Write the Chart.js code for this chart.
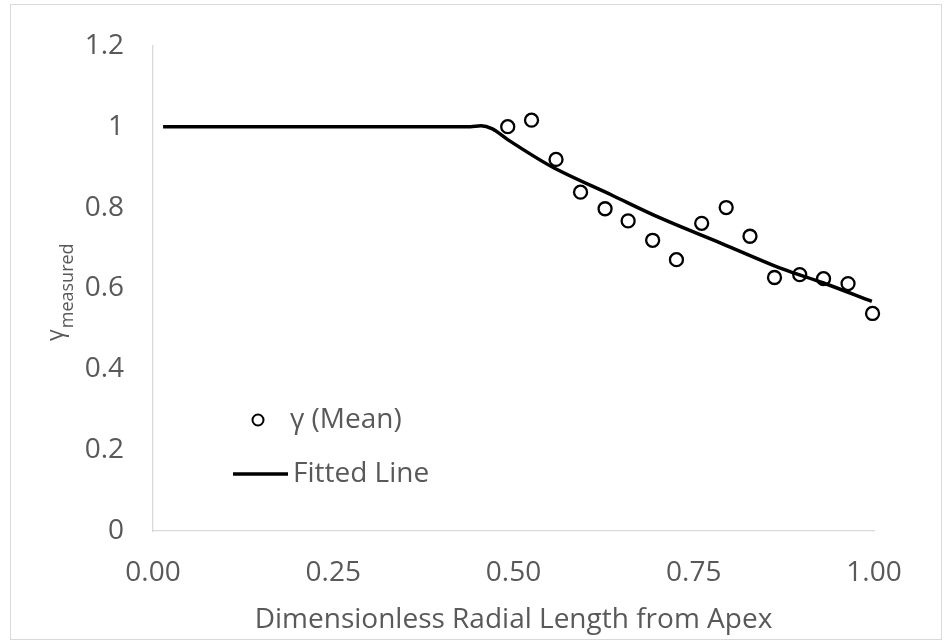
<!DOCTYPE html>
<html lang="en">
<head>
    <meta charset="UTF-8">
    <title>Gamma measured</title>
    <style>
        html, body { margin: 0; padding: 0; background: #fff; }
        #wrap { position: relative; width: 951px; height: 643px; }
        #frame { position: absolute; left: 10px; top: 4px; width: 930px; height: 634px; border: 1px solid #d9d9d9; pointer-events: none; }
    </style>
</head>
<body>
    <div id="wrap">
        <canvas id="myChart" width="951" height="643"></canvas>
        <div id="frame"></div>
    </div>

    <script src="https://cdn.jsdelivr.net/npm/chart.js"></script>

    <script>
        // measured points: gamma (mean)
        const meanX = [0.492, 0.525, 0.559, 0.593, 0.627, 0.659, 0.693, 0.726, 0.761, 0.795, 0.828, 0.862, 0.897, 0.930, 0.964, 0.998];
        const meanY = [1.000, 1.016, 0.919, 0.838, 0.797, 0.767, 0.719, 0.671, 0.761, 0.800, 0.729, 0.627, 0.634, 0.624, 0.612, 0.538];

        // fitted line
        const fitX = [0.014, 0.440, 0.455, 0.470, 0.492, 0.552, 0.636, 0.705, 0.789, 0.872, 0.929, 0.997];
        const fitY = [1.000, 1.000, 1.002, 0.995, 0.968, 0.902, 0.831, 0.773, 0.711, 0.649, 0.614, 0.568];

        const xTicks = [0, 0.25, 0.5, 0.75, 1];
        const yTicks = [0, 0.2, 0.4, 0.6, 0.8, 1, 1.2];

        const textColor = '#595959';
        const fontFamily = '"Open Sans", "Noto Sans", sans-serif';

        // legend inside the plot and the y title with subscript
        const decor = {
            id: 'decor',
            afterDraw(chart) {
                const ctx = chart.ctx;
                const ds = chart.data.datasets;
                ctx.save();
                ctx.fillStyle = textColor;
                ctx.textBaseline = 'middle';
                ctx.textAlign = 'left';
                ctx.font = '28px ' + fontFamily;

                ctx.beginPath();
                ctx.arc(258, 420, 5.5, 0, Math.PI * 2);
                ctx.lineWidth = 2;
                ctx.strokeStyle = ds[0].borderColor;
                ctx.stroke();
                ctx.fillText(ds[0].label, 290, 420);

                ctx.beginPath();
                ctx.moveTo(233, 474);
                ctx.lineTo(288, 474);
                ctx.lineWidth = ds[1].borderWidth;
                ctx.strokeStyle = ds[1].borderColor;
                ctx.stroke();
                ctx.fillText(ds[1].label, 293, 474);

                // y axis title: gamma with "measured" subscript
                ctx.translate(63, 341);
                ctx.rotate(-Math.PI / 2);
                ctx.textBaseline = 'alphabetic';
                ctx.font = '23px ' + fontFamily;
                ctx.fillText('γ', 0, 0);
                const w = ctx.measureText('γ').width;
                ctx.font = '18px ' + fontFamily;
                ctx.fillText('measured', w + 1, 10);
                ctx.restore();
            }
        };

        const ctx = document.getElementById('myChart');

        new Chart(ctx, {
            type: 'scatter',
            data: {
                datasets: [
                    {
                        label: 'γ (Mean)',
                        data: meanX.map((x, i) => ({ x: x, y: meanY[i] })),
                        showLine: false,
                        pointStyle: 'circle',
                        pointRadius: 6.5,
                        pointBorderWidth: 2.3,
                        borderColor: '#000',
                        backgroundColor: 'rgba(0,0,0,0)',
                        clip: false
                    },
                    {
                        label: 'Fitted Line',
                        data: fitX.map((x, i) => ({ x: x, y: fitY[i] })),
                        showLine: true,
                        pointRadius: 0,
                        borderWidth: 3.5,
                        borderColor: '#000',
                        cubicInterpolationMode: 'monotone',
                        fill: false,
                        clip: false
                    }
                ]
            },
            options: {
                responsive: false,
                animation: false,
                layout: { padding: { top: 30, right: 77, bottom: 0, left: 0 } },
                plugins: {
                    legend: { display: false },
                    tooltip: { enabled: false }
                },
                scales: {
                    x: {
                        type: 'linear',
                        min: 0,
                        max: 1,
                        afterBuildTicks: s => { s.ticks = xTicks.map(v => ({ value: v })); },
                        afterFit: s => { s.height = 112; },
                        grid: { display: false, drawTicks: false },
                        border: { color: '#d9d9d9', width: 1.3 },
                        ticks: {
                            color: textColor,
                            font: { family: fontFamily, size: 28 },
                            padding: 25,
                            maxRotation: 0,
                            autoSkip: false,
                            callback: v => v.toFixed(2)
                        },
                        title: {
                            display: true,
                            text: 'Dimensionless Radial Length from Apex',
                            color: textColor,
                            font: { family: fontFamily, size: 28 },
                            padding: { top: 0, bottom: 6 }
                        }
                    },
                    y: {
                        min: 0,
                        max: 1.2,
                        afterBuildTicks: s => { s.ticks = yTicks.map(v => ({ value: v })); },
                        afterFit: s => { s.width = 153; },
                        grid: { display: false, drawTicks: false },
                        border: { color: '#d9d9d9', width: 1.3 },
                        ticks: {
                            color: textColor,
                            font: { family: fontFamily, size: 28 },
                            padding: 29,
                            callback: v => String(v)
                        }
                    }
                }
            },
            plugins: [decor]
        });
    </script>
</body>
</html>
